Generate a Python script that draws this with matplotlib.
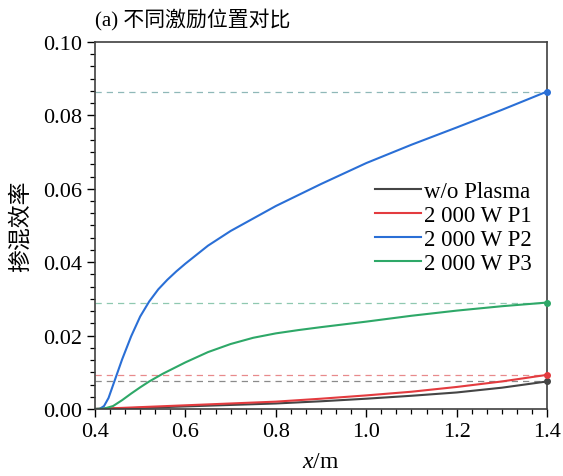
import matplotlib.pyplot as plt
import numpy as np
from matplotlib.ticker import AutoMinorLocator, MultipleLocator

plt.rcParams['font.family'] = ['Liberation Serif', 'Noto Sans CJK SC']
plt.rcParams['mathtext.fontset'] = 'custom'
plt.rcParams['mathtext.it'] = 'Liberation Serif:italic'
plt.rcParams['mathtext.rm'] = 'Liberation Serif'

# data
x_base = [0.40, 0.50, 0.60, 0.70, 0.80, 0.90, 1.00, 1.10, 1.20, 1.30, 1.40]
y_none = [0.0, 0.0003, 0.0007, 0.0011, 0.0015, 0.0021, 0.0028, 0.0036, 0.0045, 0.0058, 0.0075]
y_p1 = [0.0, 0.0005, 0.0010, 0.0015, 0.0020, 0.0028, 0.0037, 0.0047, 0.0060, 0.0075, 0.0093]

x_p2 = [0.40, 0.41, 0.42, 0.43, 0.44, 0.45, 0.46, 0.48, 0.50, 0.52, 0.54, 0.56, 0.58,
        0.60, 0.65, 0.70, 0.80, 0.90, 1.00, 1.10, 1.20, 1.30, 1.40]
y_p2 = [0.0, 0.0, 0.0008, 0.003, 0.0065, 0.010, 0.0135, 0.0198, 0.0252, 0.0293, 0.0326,
        0.0352, 0.0375, 0.0396, 0.0445, 0.0485, 0.0553, 0.0613, 0.0670, 0.0720, 0.0767,
        0.0815, 0.0865]

x_p3 = [0.40, 0.42, 0.44, 0.46, 0.48, 0.50, 0.52, 0.55, 0.60, 0.65, 0.70, 0.75, 0.80,
        0.85, 0.90, 1.00, 1.10, 1.20, 1.30, 1.40]
y_p3 = [0.0, 0.0001, 0.0008, 0.0024, 0.0042, 0.0059, 0.0075, 0.0096, 0.0127, 0.0155,
        0.0177, 0.0194, 0.0206, 0.0215, 0.0223, 0.0238, 0.0254, 0.0268, 0.0280, 0.0290]

labels = ['w/o Plasma', '2 000 W P1', '2 000 W P2', '2 000 W P3']
colors = ['#454545', '#e33b3f', '#2a6fd6', '#2ea868']
dash_colors = ['#8a8a8a', '#e88a8c', '#8fb8b8', '#8fc8b0']

fig = plt.figure(figsize=(5.63, 4.77), dpi=100)
ax = fig.add_axes([0.1687, 0.1405, 0.803, 0.7694])

series = [(x_base, y_none), (x_base, y_p1), (x_p2, y_p2), (x_p3, y_p3)]
for (xs, ys), lab, c, dc in zip(series, labels, colors, dash_colors):
    ax.plot(xs, ys, color=c, lw=1.5, label=lab)
    ax.axhline(ys[-1], color=dc, lw=0.9, ls=(0, (5, 4)), zorder=1)
    ax.plot(xs[-1], ys[-1], 'o', color=c, ms=4, clip_on=False, zorder=5)

ax.set_xlim(0.4, 1.4)
ax.set_ylim(0, 0.10)
ax.xaxis.set_major_locator(MultipleLocator(0.2))
ax.yaxis.set_major_locator(MultipleLocator(0.02))
ax.xaxis.set_minor_locator(AutoMinorLocator(6))
ax.yaxis.set_minor_locator(AutoMinorLocator(6))
ax.xaxis.set_major_formatter(plt.FuncFormatter(lambda v, p: f'{v:.1f}'))
ax.yaxis.set_major_formatter(plt.FuncFormatter(lambda v, p: f'{v:.2f}'))
ax.tick_params(which='both', direction='out', labelsize=16, top=False, right=False)
ax.tick_params(which='major', length=6, width=1.0)
ax.tick_params(which='minor', length=3.5, width=0.9)
for s in ax.spines.values():
    s.set_color('#404040')
    s.set_linewidth(1.2)

ax.set_xlabel(r'$x$/m', fontsize=17, labelpad=7)
ax.set_ylabel('掺混效率', fontsize=16.5, labelpad=8)
ax.set_title('(a) 不同激励位置对比', loc='left', fontsize=15, pad=12)

ax.legend(loc='upper left', bbox_to_anchor=(0.6, 0.645), frameon=False, fontsize=16.5,
          handlelength=2.0, handletextpad=0.1, labelspacing=0.12, borderaxespad=0)

fig.savefig('out.png', dpi=100)
